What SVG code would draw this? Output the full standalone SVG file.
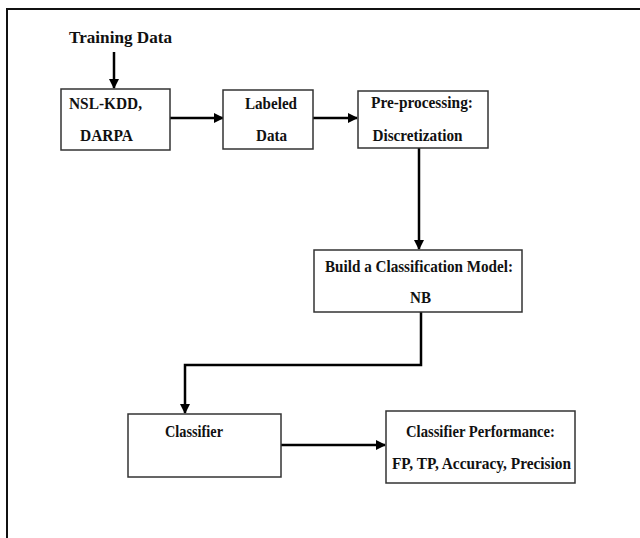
<svg xmlns="http://www.w3.org/2000/svg" width="640" height="538" viewBox="0 0 640 538">
<defs>
<marker id="ah" viewBox="0 0 10 10" refX="9" refY="5" markerWidth="4" markerHeight="4" orient="auto" markerUnits="strokeWidth">
<path d="M0,0 L10,5 L0,10 z" fill="#000"/>
</marker>
</defs>
<rect width="640" height="538" fill="#fff"/>
<path d="M7,538 V9 H640" fill="none" stroke="#111" stroke-width="2"/>
<text x="69" y="42.5" textLength="103" lengthAdjust="spacingAndGlyphs" font-family="'Liberation Serif', serif" font-weight="bold" font-size="17" fill="#111">Training Data</text>
<g id="connectors" fill="none" stroke="#000" stroke-width="2.5">
<path d="M114,52 V88" marker-end="url(#ah)"/>
<path d="M170,118 H223" marker-end="url(#ah)"/>
<path d="M313,118 H357" marker-end="url(#ah)"/>
<path d="M419,148 V249" marker-end="url(#ah)"/>
<path d="M421,312 V365 H185 V413" marker-end="url(#ah)"/>
<path d="M281,445 H385" marker-end="url(#ah)"/>
</g>
<g id="nsl">
<rect x="61" y="89" width="109" height="61" fill="#fff" stroke="#333" stroke-width="1.5"/>
<text x="69" y="108.5" textLength="73" lengthAdjust="spacingAndGlyphs" font-family="'Liberation Serif', serif" font-weight="bold" font-size="17" fill="#111">NSL-KDD,</text>
<text x="80" y="141" textLength="53" lengthAdjust="spacingAndGlyphs" font-family="'Liberation Serif', serif" font-weight="bold" font-size="17" fill="#111">DARPA</text>
</g>
<g id="labeled">
<rect x="223" y="90" width="90" height="59" fill="#fff" stroke="#333" stroke-width="1.5"/>
<text x="245" y="108.5" textLength="52" lengthAdjust="spacingAndGlyphs" font-family="'Liberation Serif', serif" font-weight="bold" font-size="17" fill="#111">Labeled</text>
<text x="256" y="141" textLength="31" lengthAdjust="spacingAndGlyphs" font-family="'Liberation Serif', serif" font-weight="bold" font-size="17" fill="#111">Data</text>
</g>
<g id="preproc">
<rect x="358" y="91" width="130" height="57" fill="#fff" stroke="#333" stroke-width="1.5"/>
<text x="371" y="108" textLength="102" lengthAdjust="spacingAndGlyphs" font-family="'Liberation Serif', serif" font-weight="bold" font-size="17" fill="#111">Pre-processing:</text>
<text x="372.5" y="141" textLength="90" lengthAdjust="spacingAndGlyphs" font-family="'Liberation Serif', serif" font-weight="bold" font-size="17" fill="#111">Discretization</text>
</g>
<g id="build">
<rect x="314" y="250" width="208" height="62" fill="#fff" stroke="#333" stroke-width="1.5"/>
<text x="325" y="272" textLength="188" lengthAdjust="spacingAndGlyphs" font-family="'Liberation Serif', serif" font-weight="bold" font-size="17" fill="#111">Build a Classification Model:</text>
<text x="410" y="303" textLength="21" lengthAdjust="spacingAndGlyphs" font-family="'Liberation Serif', serif" font-weight="bold" font-size="17" fill="#111">NB</text>
</g>
<g id="classifier">
<rect x="128" y="414" width="153" height="63" fill="#fff" stroke="#333" stroke-width="1.5"/>
<text x="165" y="437" textLength="58" lengthAdjust="spacingAndGlyphs" font-family="'Liberation Serif', serif" font-weight="bold" font-size="17" fill="#111">Classifier</text>
</g>
<g id="performance">
<rect x="386" y="411" width="189" height="72" fill="#fff" stroke="#333" stroke-width="1.5"/>
<text x="406" y="437" textLength="149" lengthAdjust="spacingAndGlyphs" font-family="'Liberation Serif', serif" font-weight="bold" font-size="17" fill="#111">Classifier Performance:</text>
<text x="392" y="469" textLength="179" lengthAdjust="spacingAndGlyphs" font-family="'Liberation Serif', serif" font-weight="bold" font-size="17" fill="#111">FP, TP, Accuracy, Precision</text>
</g>
</svg>
